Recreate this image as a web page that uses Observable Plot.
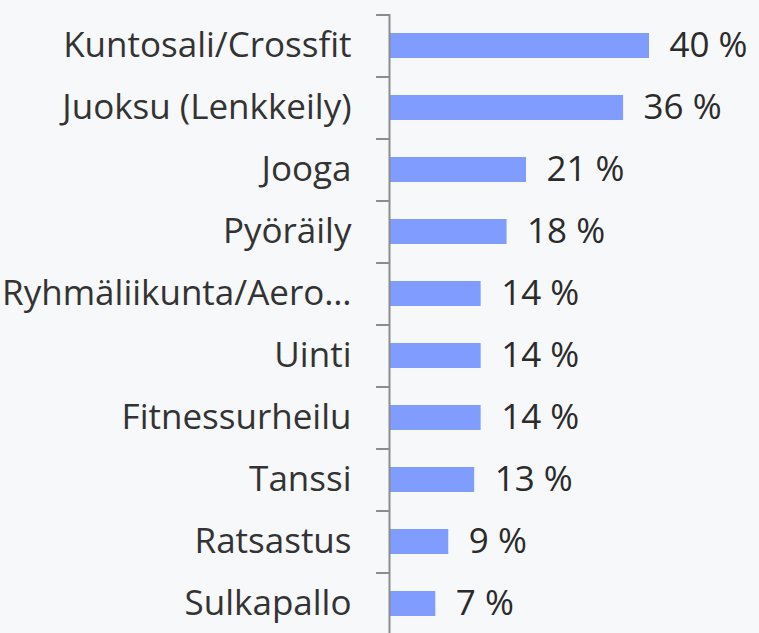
<!DOCTYPE html>
<html>
<head>
<meta charset="utf-8">
<script src="https://cdn.jsdelivr.net/npm/d3@7"></script>
<script src="https://cdn.jsdelivr.net/npm/@observablehq/plot@0.6"></script>
<style>
  html, body { margin: 0; padding: 0; background: #f7f8fa; overflow: hidden; }
</style>
</head>
<body>
<div id="chart"></div>
<script>
const categories = ["Kuntosali/Crossfit", "Juoksu (Lenkkeily)", "Jooga", "Pyöräily", "Ryhmäliikunta/Aero…", "Uinti", "Fitnessurheilu", "Tanssi", "Ratsastus", "Sulkapallo"];
const values = [40, 36, 21, 18, 14, 14, 14, 13, 9, 7];
const valueLabels = values.map(v => `${v} %`);

const data = categories.map((c, i) => ({category: c, value: values[i], label: valueLabels[i]}));

const W = 759, H = 633, mTop = 14, mLeft = 390;
const band = (H + 1 - mTop) / categories.length;

const chart = Plot.plot({
  width: W,
  height: H,
  marginTop: mTop,
  marginBottom: -1,
  marginLeft: mLeft,
  marginRight: 0,
  style: {background: "#f7f8fa", fontFamily: "Open Sans", fontSize: "35px", color: "#333"},
  x: {domain: [0, 40], range: [mLeft, mLeft + 259], axis: null},
  y: {domain: categories, paddingInner: 0.6, paddingOuter: 0.3, align: 0.5},
  marks: [
    Plot.barX(data, {y: "category", x: "value", fill: "#809cff"}),
    Plot.text(data, {y: "category", x: "value", text: "label", textAnchor: "start", dx: 20, fill: "#2b2b2b", fontSize: 35}),
    Plot.ruleX([0], {stroke: "#8c8c8c", strokeWidth: 2, dx: -1}),
    Plot.ruleY(categories, {y: d => d, x1: -2, x2: 0, dx: -1, dy: -band / 2, stroke: "#8c8c8c", strokeWidth: 2}),
    Plot.axisY({tickSize: 0, tickPadding: 39, fontSize: 35, fill: "#333", label: null, textAnchor: "end"})
  ]
});
document.getElementById("chart").appendChild(chart);
</script>
</body>
</html>
